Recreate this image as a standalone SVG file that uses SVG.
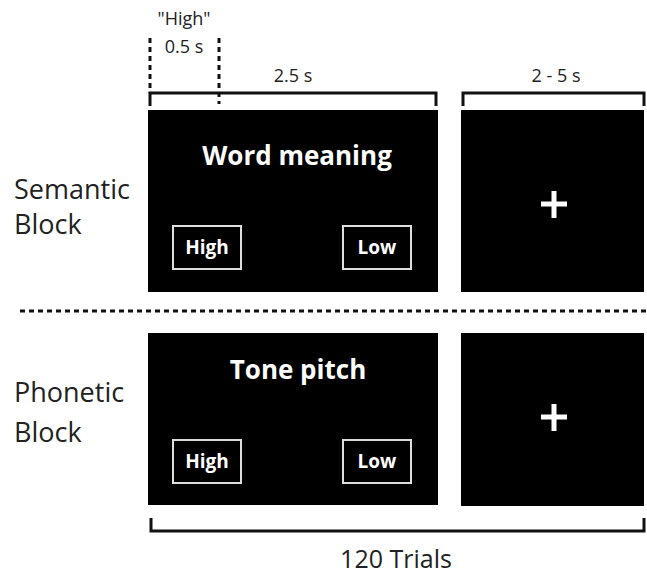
<svg xmlns="http://www.w3.org/2000/svg" width="647" height="575" viewBox="0 0 647 575">
<style>
.lbl{font-family:"Open Sans","Liberation Sans",sans-serif;fill:#222}
.big{font-size:27px}
.small{font-size:18px}
.title{font-family:"Open Sans","Liberation Sans",sans-serif;font-weight:bold;font-size:26px;fill:#fff;text-anchor:middle}
.btn{font-family:"Open Sans","Liberation Sans",sans-serif;font-weight:bold;font-size:19px;fill:#fff;text-anchor:middle}
.box{fill:none;stroke:#ddd;stroke-width:2}
.panel{fill:#000}
.br{fill:none;stroke:#111;stroke-width:3}
.dot{fill:none;stroke:#111;stroke-width:3;stroke-dasharray:5 4}
.cross{stroke:#fff;stroke-width:5}
</style>
<rect width="647" height="575" fill="#fff"/>
<g id="labels">
<text class="lbl big" x="14" y="199">Semantic</text>
<text class="lbl big" x="14" y="234">Block</text>
<text class="lbl big" x="14" y="402">Phonetic</text>
<text class="lbl big" x="14" y="442">Block</text>
<text class="lbl small" x="184" y="25" text-anchor="middle" font-size="19">"High"</text>
<text class="lbl small" x="184" y="53" text-anchor="middle">0.5 s</text>
<text class="lbl small" x="293" y="82" text-anchor="middle">2.5 s</text>
<text class="lbl small" x="556" y="82" text-anchor="middle">2 - 5 s</text>
<text class="lbl" x="396" y="568" text-anchor="middle" font-size="25">120 Trials</text>
</g>
<g id="connectors">
<path class="br" d="M150,106 V93 H436 V106"/>
<path class="br" d="M463,106 V93 H644 V106"/>
<path class="br" d="M151,518 V531 H644 V518"/>
<line class="dot" x1="150" y1="38" x2="150" y2="93"/>
<line class="dot" x1="219" y1="38" x2="219" y2="104"/>
<line class="dot" x1="20" y1="311" x2="647" y2="311"/>
</g>
<g id="semantic-task">
<rect class="panel" x="148" y="110" width="290" height="182"/>
<text class="title" x="297" y="165" font-size="27">Word meaning</text>
<rect class="box" x="173" y="226" width="68" height="43"/>
<text class="btn" x="207" y="254">High</text>
<rect class="box" x="343" y="226" width="68" height="43"/>
<text class="btn" x="377" y="254">Low</text>
</g>
<g id="semantic-fixation">
<rect class="panel" x="461" y="110" width="183" height="182"/>
<path class="cross" d="M541,204 H567 M554,191 V218"/>
</g>
<g id="phonetic-task">
<rect class="panel" x="148" y="333" width="290" height="172"/>
<text class="title" x="298" y="379">Tone pitch</text>
<rect class="box" x="173" y="440" width="68" height="43"/>
<text class="btn" x="207" y="468">High</text>
<rect class="box" x="343" y="440" width="68" height="43"/>
<text class="btn" x="377" y="468">Low</text>
</g>
<g id="phonetic-fixation">
<rect class="panel" x="461" y="333" width="183" height="173"/>
<path class="cross" d="M541,417 H567 M554,404 V431"/>
</g>
</svg>
